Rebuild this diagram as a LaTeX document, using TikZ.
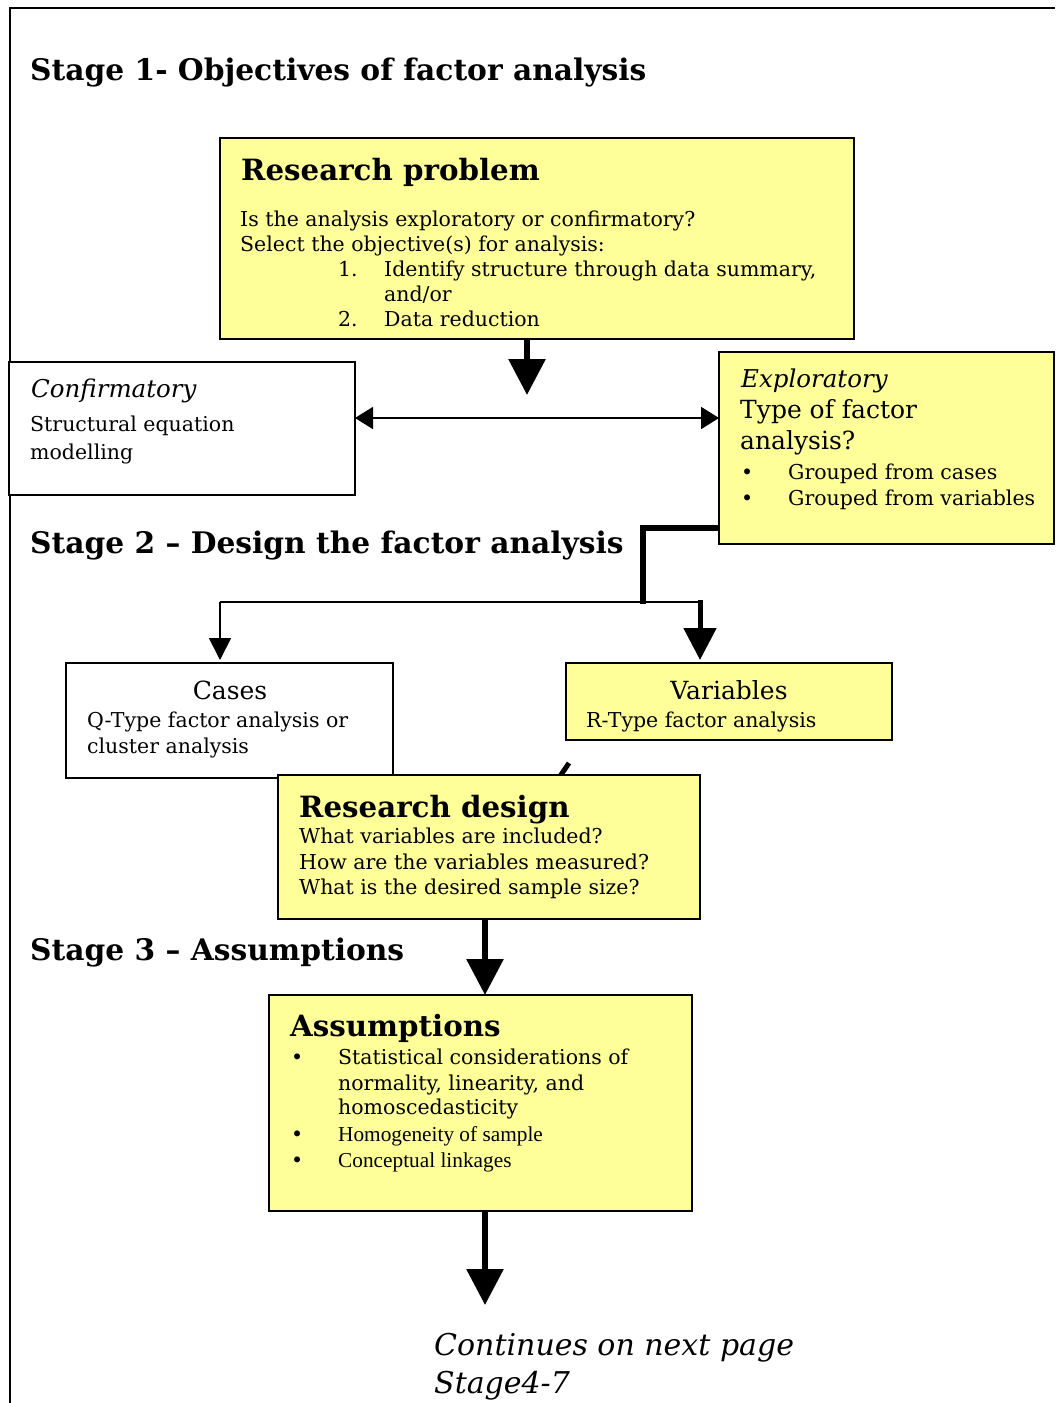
\documentclass[tikz,border=0pt]{standalone}
\usepackage{fontspec}
\setmainfont{DejaVu Serif}
\newfontfamily\timesf{Liberation Serif}
\usetikzlibrary{arrows.meta}
\definecolor{boxyellow}{HTML}{FFFF99}
\begin{document}
\begin{tikzpicture}[x=1pt,y=-1pt,
  box/.style={draw=black,line width=1.8pt,anchor=north west,inner sep=0pt,outer sep=0pt,fill=white},
  ybox/.style={box,fill=boxyellow},
  tx/.style={anchor=base west,inner sep=0pt,font=\fontsize{20.5}{24}\selectfont},
  ttl/.style={anchor=base west,inner sep=0pt,font=\bfseries\fontsize{29.3}{34}\selectfont},
  stg/.style={anchor=base west,inner sep=0pt,font=\bfseries\fontsize{29.7}{34}\selectfont},
  midt/.style={inner sep=0pt,font=\fontsize{25}{30}\selectfont},
  itl/.style={anchor=base west,inner sep=0pt,font=\itshape\fontsize{24.5}{30}\selectfont},
  tms/.style={anchor=base west,inner sep=0pt,font=\timesf\fontsize{21.3}{26}\selectfont},
  bigarrow/.style={line width=6pt,-{Triangle[width=36pt,length=36pt]}},
]
\fill[white] (0,0) rectangle (1055,1403);
\useasboundingbox (0,0) rectangle (1055,1403);
\draw[line width=1.6pt] (10,1403) -- (10,8) -- (1055,8);

% Stage headings
\node[stg] (s1) at (30,80) {Stage 1- Objectives of factor analysis};
\node[stg] (s2) at (30,553) {Stage 2 -- Design the factor analysis};
\node[stg] (s3) at (30,960) {Stage 3 -- Assumptions};

% Research problem
\node[ybox,minimum width=634pt,minimum height=201pt] (rp) at (220,138) {};
\node[ttl] (rpt) at (241,180) {Research problem};
\node[tx] (rp1) at (240,226) {Is the analysis exploratory or confirmatory?};
\node[tx] (rp2) at (240,251) {Select the objective(s) for analysis:};
\node[tx] (rpn1) at (338,276) {1.};
\node[tx] (rp3) at (384,276) {Identify structure through data summary,};
\node[tx] (rp4) at (384,301) {and/or};
\node[tx] (rpn2) at (338,326) {2.};
\node[tx] (rp5) at (384,326) {Data reduction};

% Confirmatory
\node[box,minimum width=346pt,minimum height=133pt] (conf) at (9,362) {};
\node[itl] (cft) at (31,397) {Confirmatory};
\node[tx] (cf1) at (30,431) {Structural equation};
\node[tx] (cf2) at (30,459) {modelling};

% Exploratory
\node[ybox,minimum width=335pt,minimum height=192pt] (expl) at (719,352) {};
\node[itl] (ext) at (741,387) {Exploratory};
\node[midt,anchor=base west] (ex1) at (740,418) {Type of factor};
\node[midt,anchor=base west] (ex2) at (740,449) {analysis?};
\node[tx] (exb1) at (741,479) {•};
\node[tx] (ex3) at (788,479) {Grouped from cases};
\node[tx] (exb2) at (741,505) {•};
\node[tx] (ex4) at (788,505) {Grouped from variables};

% Cases
\node[box,minimum width=327pt,minimum height=115pt] (cases) at (66,663) {};
\node[midt,anchor=base] (cat) at (230,699) {Cases};
\node[tx] (ca1) at (87,727) {Q-Type factor analysis or};
\node[tx] (ca2) at (87,753) {cluster analysis};

% Variables
\node[ybox,minimum width=326pt,minimum height=77pt] (vars) at (566,663) {};
\node[midt,anchor=base] (vat) at (729,699) {Variables};
\node[tx] (va1) at (586,727) {R-Type factor analysis};

% hidden diagonal stroke behind research design
\coordinate (dga) at (569,763);
\coordinate (dgb) at (552,788);
\draw[line width=5pt] (dga) -- (dgb);

% Research design
\node[ybox,minimum width=422pt,minimum height=144pt] (rd) at (278,775) {};
\node[ttl] (rdt) at (299,817) {Research design};
\node[tx] (rd1) at (299,843) {What variables are included?};
\node[tx] (rd2) at (299,869) {How are the variables measured?};
\node[tx] (rd3) at (299,894) {What is the desired sample size?};

% Assumptions
\node[ybox,minimum width=423pt,minimum height=216pt] (as) at (269,995) {};
\node[ttl] (ast) at (290,1036) {Assumptions};
\node[tx] (asb1) at (291,1064) {•};
\node[tx] (as1) at (338,1064) {Statistical considerations of};
\node[tx] (as2) at (338,1090) {normality, linearity, and};
\node[tx] (as3) at (338,1114) {homoscedasticity};
\node[tx] (asb2) at (291,1141) {•};
\node[tms] (as4) at (338,1141) {Homogeneity of sample};
\node[tx] (asb3) at (291,1167) {•};
\node[tms] (as5) at (338,1167) {Conceptual linkages};

% Continues
\node[anchor=base west,inner sep=0pt,font=\itshape\fontsize{30}{36}\selectfont] (co1) at (434,1355) {Continues on next page};
\node[anchor=base west,inner sep=0pt,font=\itshape\fontsize{30}{36}\selectfont] (co2) at (434,1393) {Stage4-7};

% Connectors
\coordinate (rpend) at (527,395);
\draw[bigarrow] (rp.south -| rpend) -- (rpend);

\coordinate (midy) at (527,418);
\draw[line width=1.8pt,{Triangle[width=22pt,length=18pt]}-{Triangle[width=22pt,length=18pt]}] (conf.east |- midy) -- (expl.west |- midy);

\coordinate (bend) at (643,528);
\coordinate (split) at (643,602);
\coordinate (cl) at (220,602);
\coordinate (vr) at (700,602);
\draw[line width=6pt,line join=miter] (expl.west |- bend) -- (bend) -- ([yshift=-2pt]split);
\draw[line width=1.8pt] (vr) -- (cl);
\draw[line width=1.8pt,-{Triangle[width=22pt,length=22pt]}] (cl) -- ([yshift=3pt]cl |- cases.north);
\draw[line width=5pt,-{Triangle[width=32pt,length=32pt]}] ([yshift=2pt]vr) -- ([yshift=3pt]vr |- vars.north);

\coordinate (ax) at (485,0);
\draw[bigarrow] (rd.south -| ax) -- (as.north -| ax);

\coordinate (cont) at (485,1305);
\draw[bigarrow] (as.south -| cont) -- (cont);
\end{tikzpicture}
\end{document}
